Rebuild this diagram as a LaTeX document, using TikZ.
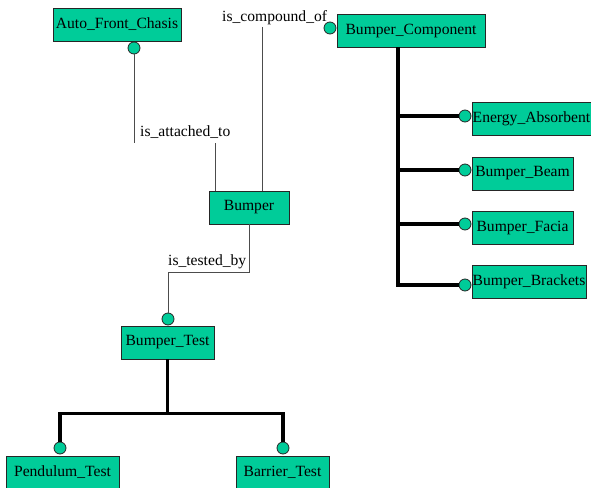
\documentclass[tikz,border=0pt]{standalone}
\usepackage{fontspec}
\setmainfont{Liberation Serif}

\definecolor{boxgreen}{RGB}{0,204,153}

\tikzset{
  entity/.style={draw=black!85, fill=boxgreen, line width=0.8pt, inner sep=0pt,
    minimum height=33pt, font=\fontsize{15.6}{18}\selectfont},
  knob/.style={circle, draw=black!85, fill=boxgreen, line width=0.8pt,
    minimum size=12pt, inner sep=0pt},
  relline/.style={line width=1pt, black!70},
  partline/.style={line width=3.6pt, black},
  rellabel/.style={inner sep=0pt, font=\fontsize{15.6}{18}\selectfont}
}

\begin{document}
\begin{tikzpicture}[x=1pt,y=-1pt]

    \useasboundingbox (0,0) rectangle (591,487);

    % Entities
    \node[entity, minimum width=128pt] (chasis) at (117,24.5) {Auto\_Front\_Chasis};
    \node[entity, minimum width=148pt] (comp) at (411,31) {Bumper\_Component};
    \node[entity, minimum width=80pt] (bumper) at (249,207.5) {Bumper};
    \node[entity, minimum width=119pt] (energy) at (531.5,119) {Energy\_Absorbent};
    \node[entity, minimum width=101pt] (beam) at (522.5,173.5) {Bumper\_Beam};
    \node[entity, minimum width=101pt] (facia) at (522.5,227.5) {Bumper\_Facia};
    \node[entity, minimum width=114pt] (brackets) at (529,282) {Bumper\_Brackets};
    \node[entity, minimum width=93pt] (test) at (167.5,342.5) {Bumper\_Test};
    \node[entity, minimum width=113pt] (pend) at (62.5,472.5) {Pendulum\_Test};
    \node[entity, minimum width=93pt] (barr) at (282.5,472.5) {Barrier\_Test};

    % Relation lines
    \coordinate (att1) at (134,143);
    \coordinate (att2) at (215,143);
    \coordinate (cmp) at (262,27);
    \node[knob] (kchasis) at (134,48) {};
    \draw[relline] (kchasis) -- (att1);
    \draw[relline] (att2) -- (att2 |- bumper.north);
    \node[rellabel, anchor=base west] (attlbl) at (140,136) {is\_attached\_to};

    \draw[relline] (cmp) -- (cmp |- bumper.north);
    \node[rellabel, anchor=base west] (cmplbl) at (222,22) {is\_compound\_of};
    \node[knob] (kcomp) at (330,28) {};

    \node[knob] (ktest) at (168,319) {};
    \draw[relline] (bumper.south) -- ++(0,48) -| (ktest);
    \node[rellabel, anchor=base west] (tstlbl) at (168,265) {is\_tested\_by};

    % Part-of tree of the bumper component
    \coordinate (trunk) at (398,47);
    \foreach \part/\y in {energy/116, beam/170, facia/224, brackets/285} {
        \node[knob] (k\part) at (465,\y) {};
    }
    \draw[partline] (trunk) |- (kbrackets);
    \foreach \part in {energy, beam, facia} {
        \draw[partline] (trunk |- k\part) -- (k\part);
    }

    % Test tree
    \node[knob] (kpend) at (60,448) {};
    \node[knob] (kbarr) at (283,448) {};
    \draw[partline] (test.south) -- ++(0,54) coordinate (tj);
    \draw[partline] (tj) -| (kpend);
    \draw[partline] (tj) -| (kbarr);

\end{tikzpicture}
\end{document}
